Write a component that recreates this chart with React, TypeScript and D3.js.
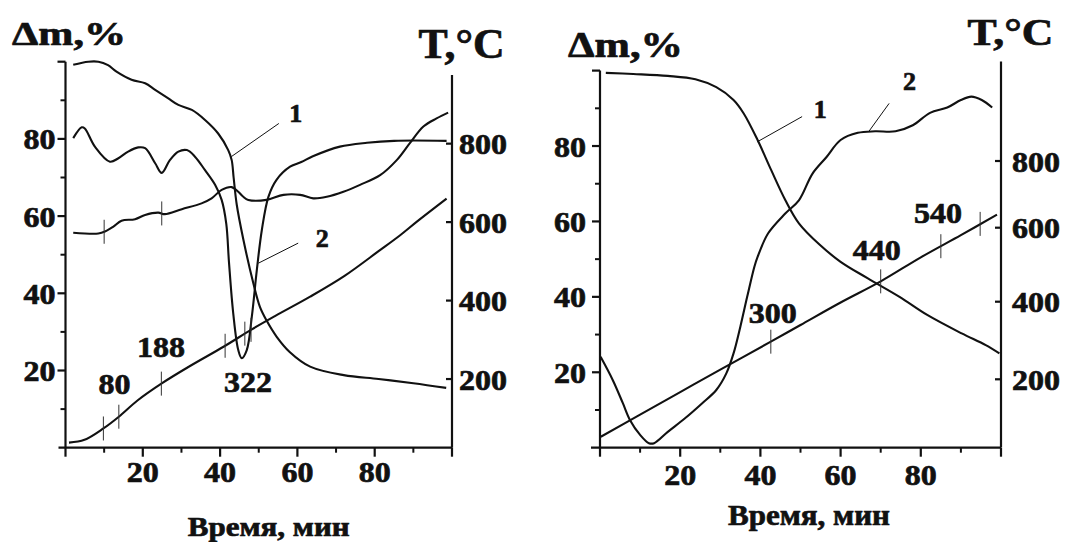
import * as d3 from "d3";

const W = 1070;
const H = 542;
const FONT = '"Liberation Serif", "Times New Roman", serif';
const INK = "#111";

// ---- left plot: time (min) vs mass (%) and temperature (°C) ----
const leftTG: [number, number][] = [
  [2, 99.2], [5.9, 100], [8.5, 100], [11, 99.1], [13.2, 97.4], [17.1, 95.3], [20.6, 94.4],
  [23.2, 92.7], [26.6, 90.5], [29.2, 88.8], [32.7, 87.5], [36.1, 84.9], [39.5, 81.4],
  [42.1, 77.1], [43, 74.5], [43.5, 70], [44.3, 63], [46, 54], [48.6, 42.6], [50.3, 36.5],
  [52, 33], [54.6, 28.8], [58, 24.8], [63.3, 21], [72, 18.8], [81, 17.8], [90, 16.7], [98.5, 15.5],
];
const leftDTG: [number, number][] = [
  [2, 80.2], [4.2, 83], [5, 82.7], [7.6, 78], [11.5, 74.1], [13.7, 75], [16.2, 76.7],
  [18.8, 77.8], [20.6, 77.6], [23.2, 73.7], [24.9, 71.2], [27, 74.5], [29.2, 76.7],
  [31.4, 77.1], [33.5, 75.4], [36.1, 71.9], [38.7, 68.1], [40.4, 64.2], [41.6, 58],
  [42.3, 48], [43.4, 34.8], [44.7, 25.3], [45.6, 23.2], [46.9, 25.3], [48.2, 33.9],
  [49.5, 46], [50.8, 56.4], [52.5, 65], [54.6, 69.4], [58.1, 72.8], [61, 74], [64, 75.5],
  [71, 78], [78, 79], [85, 79.5], [98.6, 79.5],
];
const leftDTA: [number, number][] = [
  [2, 55.7], [8.5, 55.5], [10.2, 56], [12.4, 57.3], [14.5, 58.8], [18, 59.2], [20.6, 60.3],
  [24, 60.9], [25.7, 60.5], [30.1, 61.8], [35.2, 63.3], [37.8, 64.6], [40.4, 66.8], [43, 67.5],
  [44.7, 66.3], [46, 65], [47.3, 64.2], [52, 64.2], [56.4, 65.5], [60.7, 65.5], [64.1, 64.6],
  [67.6, 65], [71.9, 66.3], [76.2, 68.1], [81.4, 70.6], [85.7, 74.5], [89.1, 78.9],
  [92.6, 83.2], [96, 85.3], [99, 86.8],
];
const leftT: [number, number][] = [
  [0.9, 38], [4.9, 45], [9.8, 74], [13.8, 104], [18.7, 146], [24.9, 189], [32, 232],
  [41, 283], [48.1, 326], [54.3, 361], [63.3, 410], [72.2, 463], [81, 526], [86.5, 566],
  [91, 602], [98.6, 660],
];
const leftTMarks = [9.8, 13.8, 24.8, 41.3, 46.4, 48];
const leftDTAMarks = [10, 24.9];
const leftNums = [
  { text: "80", x: 12.7, t: 163 },
  { text: "188", x: 24.7, t: 257 },
  { text: "322", x: 47.2, t: 168 },
];
const leftLabels = [
  { text: "1", from: [42.9, 75.4], to: [55.2, 84], at: [59.6, 84.5] },
  { text: "2", from: [49.9, 47.8], to: [60.2, 53], at: [66.4, 52.1] },
];

// ---- right plot ----
const rightTG: [number, number][] = [
  [1.45, 99.4], [8.3, 99.1], [16.9, 98.6], [23.8, 97.7], [29, 95.6], [33.3, 92.2],
  [35.8, 88.7], [39.3, 81.6], [42.7, 73.6], [46.2, 65.7], [49.6, 59.5], [54.8, 53.8],
  [60, 49.3], [66.8, 44.9], [74.7, 40], [81.6, 35.2], [90.2, 30.3], [96.2, 27.2], [99.6, 25],
];
const rightDTG: [number, number][] = [
  [0.15, 24.1], [3.2, 17.9], [5.7, 11.8], [7.5, 7.3], [10, 3.4], [12.2, 1.2], [13.5, 1.2],
  [16.9, 4.2], [21.2, 7.8], [25.5, 11.8], [29, 15.3], [31.5, 19.7], [33.3, 25], [35, 32.1],
  [36.7, 40], [38.5, 48], [39.3, 50.6], [41.9, 56.8], [46.2, 62.1], [49.6, 65.6], [53, 72.7],
  [56.5, 77.1], [60, 81.6], [64.3, 83.5], [68.6, 83.9], [73.7, 83.9], [78, 85.5],
  [82.3, 88.8], [86.6, 90.2], [90, 92.2], [92.6, 93.1], [95.2, 92.2], [97.8, 90.2],
];
const rightT: [number, number][] = [
  [0.2, 52], [10, 109], [20, 167], [30, 225], [42.6, 297], [50, 340], [60, 398],
  [70, 455], [80, 520], [90, 580], [99, 639],
];
const rightTMarks = [42.6, 70, 85, 94.8];
const rightNums = [
  { text: "300", x: 43.1, t: 344 },
  { text: "440", x: 69, t: 513 },
  { text: "540", x: 84.3, t: 613 },
];
const rightLabels = [
  { text: "1", from: [39.2, 81.1], to: [50.4, 87.8], at: [54.9, 87.3] },
  { text: "2", from: [67, 83.8], to: [72.1, 91.3], at: [77.2, 94.9] },
];

// ---- axes ----
const xMajor = [0, 20, 40, 60, 80, 100];
const xMinor = [10, 30, 50, 70, 90];
const xLabels = [20, 40, 60, 80];
const yMajor = [20, 40, 60, 80, 100];
const yMinor = [10, 30, 50, 70, 90];
const yLabels = [20, 40, 60, 80];
const tTicks = [200, 400, 600, 800];

const LEFT = {
  xRange: [65.5, 452],
  yRange: [447.7, 61.7],
  tScale: d3.scaleLinear().domain([25, 975]).range([447.7, 75]),
  tExtent: [25, 975],
  curves: [leftTG, leftDTG, leftDTA],
  tCurve: leftT,
  tMarks: leftTMarks,
  dta: leftDTA,
  dtaMarks: leftDTAMarks,
  nums: leftNums,
  labels: leftLabels,
  xStub: 7,
  yLabelGap: 10,
  xLabelDy: 34,
  tLabelGap: 7,
  dm: { x: 12, y: 45, len: 114, size: 34 },
  tt: { x: 418.5, y: 58.3, len: 86, size: 42 },
  time: { x: 187.7, y: 536, len: 162, size: 28 },
};

const RIGHT = {
  xRange: [600, 1001],
  yRange: [447.7, 70.6],
  // the scanned temperature axis is not evenly spaced, so it is piecewise
  tScale: d3.scaleLinear().domain([200, 400, 600, 800]).range([379.3, 301.7, 227.7, 161]),
  tExtent: [24, 1098],
  curves: [rightTG, rightDTG],
  tCurve: rightT,
  tMarks: rightTMarks,
  dta: null,
  dtaMarks: [],
  nums: rightNums,
  labels: rightLabels,
  xStub: 9,
  yLabelGap: 14,
  xLabelDy: 37,
  tLabelGap: 11,
  dm: { x: 568, y: 56.7, len: 115, size: 35 },
  tt: { x: 967.4, y: 45, len: 86, size: 38 },
  time: { x: 728, y: 525, len: 162, size: 30 },
};

function valueAt(pts: [number, number][], xv: number) {
  const i = d3.bisector((d: [number, number]) => d[0]).left(pts, xv);
  const a = pts[Math.max(0, i - 1)];
  const b = pts[Math.min(pts.length - 1, i)];
  if (a[0] === b[0]) return a[1];
  return a[1] + ((b[1] - a[1]) * (xv - a[0])) / (b[0] - a[0]);
}

// scanned bold type is a little heavier than the font, so give it a thin outline
const HEAVY = { stroke: INK, strokeWidth: 0.7, fill: INK };

function Num({ x, y, text, size = 30, anchor = "middle" }: any) {
  return (
    <text
      x={x}
      y={y}
      fontSize={size}
      textAnchor={anchor}
      textLength={text.length * 16}
      lengthAdjust="spacingAndGlyphs"
      {...HEAVY}
    >
      {text}
    </text>
  );
}

function Panel({ cfg }: { cfg: any }) {
  const x = d3.scaleLinear().domain([0, 100]).range(cfg.xRange);
  const y = d3.scaleLinear().domain([0, 100]).range(cfg.yRange);
  const t = cfg.tScale;
  const curve = d3.curveCatmullRom.alpha(0.5);
  const lineY = d3.line<[number, number]>().x((d) => x(d[0])).y((d) => y(d[1])).curve(curve);
  const lineT = d3.line<[number, number]>().x((d) => x(d[0])).y((d) => t(d[1])).curve(curve);

  const [x0, x1] = cfg.xRange;
  const yb = y(0);
  const MARK = 12;

  return (
    <g>
      {/* data curves */}
      {cfg.curves.map((c: [number, number][], i: number) => (
        <path key={i} d={lineY(c) || ""} fill="none" stroke={INK} strokeWidth={2.1} />
      ))}
      <path d={lineT(cfg.tCurve) || ""} fill="none" stroke={INK} strokeWidth={2.1} />

      {/* small marks on the temperature and DTA curves */}
      {cfg.tMarks.map((m: number) => {
        const cy = t(valueAt(cfg.tCurve, m));
        return <line key={"t" + m} x1={x(m)} x2={x(m)} y1={cy - MARK} y2={cy + MARK} stroke="#333" strokeWidth={1} />;
      })}
      {cfg.dta &&
        cfg.dtaMarks.map((m: number) => {
          const cy = y(valueAt(cfg.dta, m));
          return <line key={"d" + m} x1={x(m)} x2={x(m)} y1={cy - MARK} y2={cy + MARK} stroke="#333" strokeWidth={1} />;
        })}

      {/* curve numbers with leaders */}
      {cfg.labels.map((l: any) => (
        <g key={l.text}>
          <line x1={x(l.from[0])} y1={y(l.from[1])} x2={x(l.to[0])} y2={y(l.to[1])} stroke={INK} strokeWidth={1} />
          <text x={x(l.at[0])} y={y(l.at[1])} fontSize={26} textAnchor="middle" {...HEAVY}>
            {l.text}
          </text>
        </g>
      ))}
      {cfg.nums.map((n: any) => (
        <Num key={n.text} x={x(n.x)} y={t(n.t)} text={n.text} />
      ))}

      {/* x axis */}
      <line x1={x0 - cfg.xStub} x2={x1} y1={yb} y2={yb} stroke={INK} strokeWidth={2.2} />
      {xMajor.map((v) => (
        <line key={"xM" + v} x1={x(v)} x2={x(v)} y1={yb} y2={yb + 9} stroke={INK} strokeWidth={2.2} />
      ))}
      {xMinor.map((v) => (
        <line key={"xm" + v} x1={x(v)} x2={x(v)} y1={yb} y2={yb + 5} stroke={INK} strokeWidth={2} />
      ))}
      {xLabels.map((v) => (
        <Num key={"xl" + v} x={x(v)} y={yb + cfg.xLabelDy} text={String(v)} />
      ))}

      {/* left mass axis */}
      <line x1={x0} x2={x0} y1={yb} y2={y(100)} stroke={INK} strokeWidth={2.2} />
      {yMajor.map((v) => (
        <line key={"yM" + v} x1={x0 - 8} x2={x0} y1={y(v)} y2={y(v)} stroke={INK} strokeWidth={2.2} />
      ))}
      {yMinor.map((v) => (
        <line key={"ym" + v} x1={x0 - 5} x2={x0} y1={y(v)} y2={y(v)} stroke={INK} strokeWidth={2} />
      ))}
      {yLabels.map((v) => (
        <Num key={"yl" + v} x={x0 - cfg.yLabelGap} y={y(v) + 10.5} text={String(v)} anchor="end" />
      ))}

      {/* right temperature axis */}
      <line x1={x1} x2={x1} y1={t(cfg.tExtent[0])} y2={t(cfg.tExtent[1])} stroke={INK} strokeWidth={2.2} />
      {tTicks.map((v) => (
        <g key={"t" + v}>
          <line x1={x1 - 6} x2={x1} y1={t(v)} y2={t(v)} stroke={INK} strokeWidth={2.2} />
          <Num x={x1 + cfg.tLabelGap} y={t(v) + 10.5} text={String(v)} anchor="start" />
        </g>
      ))}

      {/* titles */}
      <text x={cfg.dm.x} y={cfg.dm.y} fontSize={cfg.dm.size} textLength={cfg.dm.len} lengthAdjust="spacingAndGlyphs" {...HEAVY}>
        Δm,%
      </text>
      <text x={cfg.tt.x} y={cfg.tt.y} fontSize={cfg.tt.size} textLength={cfg.tt.len} lengthAdjust="spacingAndGlyphs" {...HEAVY}>
        T,°C
      </text>
      <text x={cfg.time.x} y={cfg.time.y} fontSize={cfg.time.size} textLength={cfg.time.len} lengthAdjust="spacingAndGlyphs" {...HEAVY}>
        Время, мин
      </text>
    </g>
  );
}

export default function App() {
  return (
    <svg
      width={W}
      height={H}
      style={{ position: "absolute", left: 0, top: 0, background: "#fff" }}
      fontFamily={FONT}
      fontWeight="bold"
    >
      <Panel cfg={LEFT} />
      <Panel cfg={RIGHT} />
    </svg>
  );
}
